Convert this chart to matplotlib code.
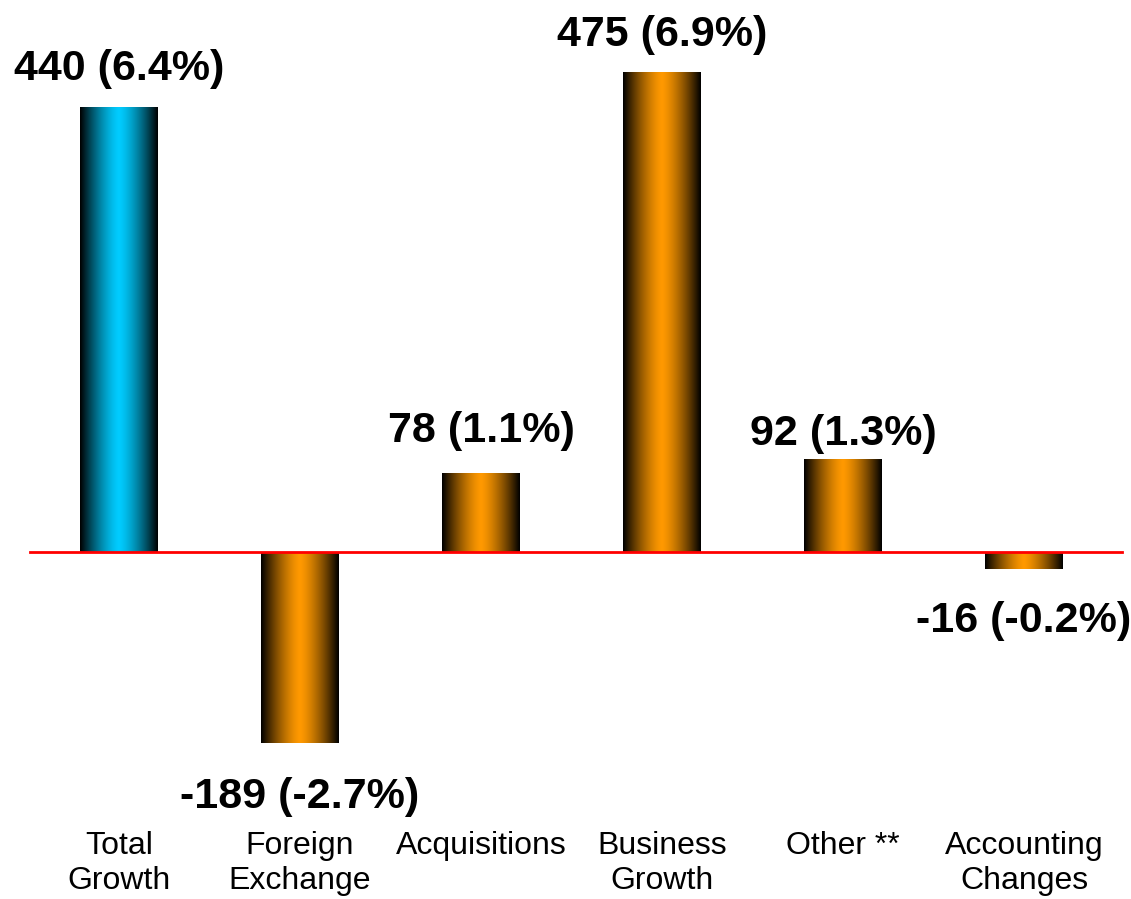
import matplotlib
matplotlib.use("Agg")
import matplotlib.pyplot as plt
import numpy as np

###Data###
categories = ["Total\nGrowth", "Foreign\nExchange", "Acquisitions",
              "Business\nGrowth", "Other **", "Accounting\nChanges"]
values = [440, -189, 78, 475, 92, -16]
percents = [6.4, -2.7, 1.1, 6.9, 1.3, -0.2]

###Style###
CYAN = (0.0, 0.80, 1.0)
ORANGE = (1.0, 0.60, 0.0)
bar_colors = [CYAN, ORANGE, ORANGE, ORANGE, ORANGE, ORANGE]
label_offsets = [28, -65, 32, 27, 15, -63]  # baseline offset from bar end, pixels
BAR_WIDTH = 0.43

plt.rcParams['font.family'] = ['Liberation Sans', 'DejaVu Sans']

fig = plt.figure(figsize=(11.31, 8.99), dpi=100)
ax = fig.add_axes([0, 0, 1, 1])
ax.set_xlim(-0.657, 5.591)
ax.set_ylim(-343.1, 547.0)
ax.axis("off")


def shade(color, n=200):
    # dark edges, bright middle: a cylinder-like horizontal gradient
    t = np.linspace(0, 1, n)
    k = 1 - np.abs(2 * t - 1) ** 1.4
    return np.array(color)[None, None, :] * k[None, :, None]


x = np.arange(len(values))
bars = ax.bar(x, values, width=BAR_WIDTH, color="none", edgecolor="none")
for bar, c in zip(bars, bar_colors):
    x0 = bar.get_x()
    y0, y1 = sorted([0, bar.get_height()])
    ax.imshow(shade(c), extent=(x0, x0 + bar.get_width(), y0, y1),
              aspect="auto", interpolation="bilinear", zorder=2)

# zero baseline
ax.plot([-0.492, 5.541], [0, 0], color="red", lw=2, zorder=3)

for xi, v, p, off in zip(x, values, percents, label_offsets):
    ax.annotate(f"{v} ({p}%)", (xi, v), xytext=(0, off),
                textcoords="offset pixels", ha="center", va="baseline",
                fontsize=31, fontweight="bold", color="black")

for xi, name in zip(x, categories):
    ax.text(xi, 1 - 831 / 899, name, transform=ax.get_xaxis_transform(),
            ha="center", va="top", fontsize=23, linespacing=1.22, color="black")

fig.savefig("out.png", dpi=100)
